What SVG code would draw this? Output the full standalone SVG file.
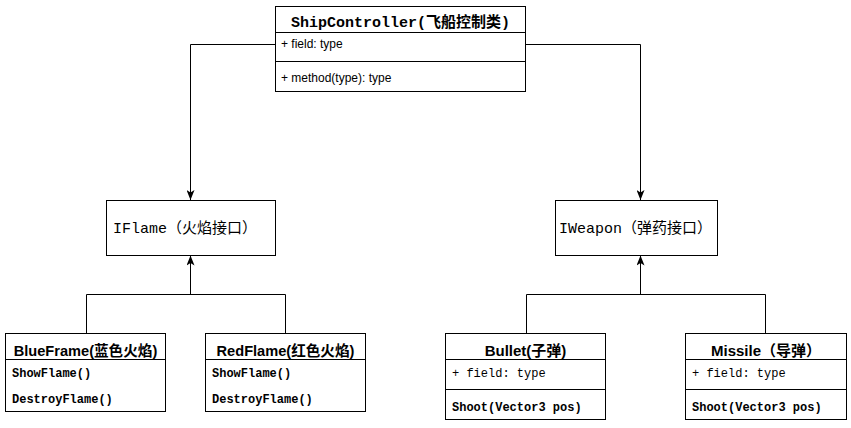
<svg xmlns="http://www.w3.org/2000/svg" width="851" height="428" viewBox="0 0 851 428">
<style>
.box{fill:#fff;stroke:#000;stroke-width:1}
.sep{stroke:#000;stroke-width:1;fill:none}
.edge{stroke:#000;stroke-width:1;fill:none}
.mono{font-family:"Liberation Mono","Noto Sans CJK SC",monospace;fill:#000}
.sans{font-family:"Liberation Sans","Noto Sans CJK SC",sans-serif;fill:#000}
.title{font-size:15px;font-weight:bold}
.m12{font-size:12px}
.b{font-weight:bold}
</style>
<defs>
<marker id="arr" viewBox="0 0 10 8" refX="10" refY="4" markerWidth="10" markerHeight="8" markerUnits="userSpaceOnUse" orient="auto">
<path d="M0,0 L10,4 L0,8 L2.5,4 z" fill="#000"/>
</marker>
</defs>
<rect width="851" height="428" fill="#fff"/>
<g id="connectors">
<path class="edge" d="M275,44.5 H190.5 V200" marker-end="url(#arr)"/>
<path class="edge" d="M525,44.5 H640.5 V200" marker-end="url(#arr)"/>
<path class="edge" d="M86.5,333 V294.5 H285.5 V333"/>
<path class="edge" d="M190.5,294.5 V255.5" marker-end="url(#arr)"/>
<path class="edge" d="M526.5,333 V294.5 H765.5 V333"/>
<path class="edge" d="M640.5,294.5 V255.5" marker-end="url(#arr)"/>
</g>
<g id="ShipController">
<rect class="box" x="275.5" y="6.5" width="250" height="85"/>
<line class="sep" x1="275.5" y1="32.5" x2="525.5" y2="32.5"/>
<line class="sep" x1="275.5" y1="61.5" x2="525.5" y2="61.5"/>
<text class="mono title" x="400.5" y="27" text-anchor="middle">ShipController(飞船控制类)</text>
<text class="sans" font-size="12" x="281" y="48">+ field: type</text>
<text class="sans" font-size="12" x="281" y="82">+ method(type): type</text>
</g>
<g id="IFlame">
<rect class="box" x="106.5" y="200.5" width="169" height="55"/>
<text class="mono" font-size="15" x="113" y="233">IFlame（火焰接口）</text>
</g>
<g id="IWeapon">
<rect class="box" x="555.5" y="200.5" width="162" height="55"/>
<text class="mono" font-size="15" x="559" y="233">IWeapon（弹药接口）</text>
</g>
<g id="BlueFrame">
<rect class="box" x="5.5" y="333.5" width="160" height="78"/>
<line class="sep" x1="5.5" y1="359.5" x2="165.5" y2="359.5"/>
<text class="sans b" font-size="14.6" x="85.5" y="355.5" text-anchor="middle">BlueFrame(蓝色火焰)</text>
<text class="mono m12 b" x="12" y="377">ShowFlame()</text>
<text class="mono m12 b" x="12" y="403">DestroyFlame()</text>
</g>
<g id="RedFlame">
<rect class="box" x="205.5" y="333.5" width="160" height="78"/>
<line class="sep" x1="205.5" y1="359.5" x2="365.5" y2="359.5"/>
<text class="sans b" font-size="14.6" x="285.5" y="355.5" text-anchor="middle">RedFlame(红色火焰)</text>
<text class="mono m12 b" x="212" y="377">ShowFlame()</text>
<text class="mono m12 b" x="212" y="403">DestroyFlame()</text>
</g>
<g id="Bullet">
<rect class="box" x="445.5" y="333.5" width="160" height="86"/>
<line class="sep" x1="445.5" y1="359.5" x2="605.5" y2="359.5"/>
<line class="sep" x1="445.5" y1="389.5" x2="605.5" y2="389.5"/>
<text class="sans b" font-size="15" x="525.5" y="355.5" text-anchor="middle">Bullet(子弹)</text>
<text class="mono m12" x="452" y="377">+ field: type</text>
<text class="mono m12 b" x="452" y="411">Shoot(Vector3 pos)</text>
</g>
<g id="Missile">
<rect class="box" x="685.5" y="333.5" width="161" height="86"/>
<line class="sep" x1="685.5" y1="359.5" x2="846.5" y2="359.5"/>
<line class="sep" x1="685.5" y1="389.5" x2="846.5" y2="389.5"/>
<text class="sans b" font-size="15" x="711" y="355.5">Missile（导弹）</text>
<text class="mono m12" x="692" y="377">+ field: type</text>
<text class="mono m12 b" x="692" y="411">Shoot(Vector3 pos)</text>
</g>
</svg>
